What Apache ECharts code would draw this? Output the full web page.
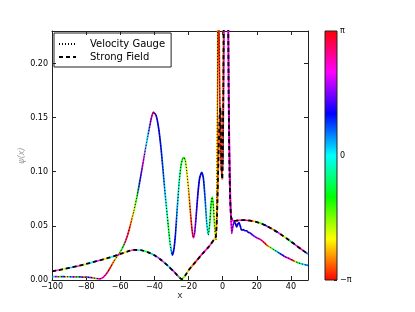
<!DOCTYPE html>
<html>
<head>
<meta charset="utf-8">
<script src="https://cdn.jsdelivr.net/npm/echarts@6/dist/echarts.min.js"></script>
<style>html,body{margin:0;padding:0;background:#fff;}#c{width:415px;height:312px;}</style>
</head>
<body>
<div id="c"></div>
<script>
// ---- data (phase in units of pi) ----
const vgX = [-100,-98,-96,-94,-92,-90,-88,-86,-84,-82,-80,-78,-76,-74,-72,-70,-68,-66,-64,-62,-60,-58,-56,-54,-52,-50,-48,-46,-44,-42,-40.6,-39,-37.5,-36,-34.5,-33,-31.5,-30.3,-29.5,-28.5,-27.5,-26.5,-25.5,-24.5,-23.5,-22.7,-21.8,-21,-20,-19,-18,-17.2,-16.4,-15.5,-14.5,-13.5,-12.3,-11.3,-10.3,-9.3,-8.4,-7.6,-6.8,-6.1,-5.4,-4.6,-3.9,-3.4,-3.0,-2.6,-2.2,-1.6,-0.8,0,0.5,0.9,2,3,3.6,4.2,4.8,5.3,6.0,6.8,7.5,8.2,9.0,9.6,10.3,11.1,12.1,13,14.1,15,16,18,20,22,24,26,28,30,32,34,36,38,40,41,42.4,44,46,48,50];
const vgY = [0.0030,0.0031,0.0030,0.0031,0.0030,0.0030,0.0029,0.0029,0.0028,0.0027,0.0026,0.0024,0.0020,0.0014,0.0010,0.0025,0.0060,0.0110,0.0165,0.0215,0.0260,0.0320,0.0400,0.0510,0.0640,0.0790,0.0960,0.1140,0.1320,0.1480,0.1550,0.1520,0.1400,0.1200,0.0940,0.0680,0.0440,0.0280,0.0230,0.0290,0.0450,0.0680,0.0900,0.1050,0.1120,0.1130,0.1100,0.1000,0.0830,0.0640,0.0470,0.0390,0.0440,0.0600,0.0800,0.0940,0.0995,0.0940,0.0760,0.0530,0.0415,0.0520,0.0700,0.0765,0.0680,0.0470,0.0370,0.0900,0.2000,0.3000,0.3000,0.1600,0.1000,0.1000,0.1800,0.3000,0.4200,0.3000,0.1700,0.1000,0.0600,0.0430,0.0500,0.0540,0.0520,0.0490,0.0520,0.0530,0.0500,0.0460,0.0465,0.0455,0.0455,0.0440,0.0435,0.0410,0.0390,0.0375,0.0350,0.0320,0.0300,0.0280,0.0260,0.0240,0.0220,0.0205,0.0190,0.0182,0.0172,0.0160,0.0150,0.0142,0.0135];
const vgPhase = [-0.8,0.0,0.6,-0.4,0.3,-0.7,0.1,0.7,-0.3,0.4,-0.9,0.2,0.8,-0.5,0.6,0.8,0.67,1.0,-0.9,-0.75,-0.5,-0.3,0.85,-0.95,-0.7,-0.4,0.3,0.7,0.0,0.5,0.85,0.4,0.35,0.3,0.2,0.0,-0.35,0.0,0.3,0.35,0.3,0.1,-0.1,-0.3,-0.33,-0.35,-0.5,-0.65,-0.75,-0.9,0.9,0.75,0.55,0.4,0.35,0.33,0.3,0.3,0.15,0.0,-0.15,-0.3,-0.33,-0.35,-0.5,-0.62,-0.67,-0.9,-0.93,-0.95,-0.93,-0.9,-0.9,0.3,0.6,0.7,0.7,0.7,0.7,0.7,0.65,0.6,0.4,0.35,0.35,0.35,0.35,0.35,0.35,0.35,0.35,0.35,0.35,0.4,0.45,0.55,0.7,0.8,1.0,-0.75,-0.4,-0.05,0.2,0.4,0.6,0.75,1.0,-0.7,-0.35,-0.15,0.0,0.2,0.33];

const sfX = [-100,-96,-92,-88,-84,-80,-76,-72,-68,-64,-60,-56,-52,-48,-44,-40,-36,-32,-28,-24,-22,-20,-16,-12,-8,-5,-4,-3.3,-2.5,-1.8,-1.3,-1.0,-0.6,-0.2,0.3,0.9,2,3,3.5,4,4.5,5,6,8,10,12,14,16,18,20,22,24,26,28,30,32,34,36,38,40,42,44,46,48,50];
const sfY = [0.0080,0.0092,0.0105,0.0118,0.0132,0.0148,0.0165,0.0182,0.0200,0.0218,0.0240,0.0262,0.0278,0.0275,0.0258,0.0228,0.0185,0.0130,0.0068,0.0008,0.0040,0.0090,0.0165,0.0240,0.0310,0.0375,0.0400,0.0600,0.1100,0.1500,0.1590,0.1350,0.1000,0.0930,0.1600,0.3000,0.4000,0.3000,0.1700,0.1000,0.0700,0.0580,0.0545,0.0548,0.0552,0.0553,0.0552,0.0548,0.0543,0.0535,0.0525,0.0512,0.0497,0.0480,0.0462,0.0443,0.0422,0.0400,0.0378,0.0355,0.0332,0.0308,0.0285,0.0262,0.0240];
const sfPhase = [0.0,0.7,-0.65,0.05,0.75,-0.6,0.0,0.65,-0.7,0.0,0.7,-0.65,0.75,0.0,-0.35,0.1,0.7,0.0,0.65,-0.35,-0.55,-0.75,-0.95,0.7,0.75,-0.7,-0.8,-0.88,-0.9,-0.92,-0.92,-0.92,-0.9,-0.88,0.6,0.7,0.7,0.7,0.7,0.7,0.7,0.7,0.75,0.8,0.75,0.7,0.95,-0.9,-0.75,-0.55,-0.35,0.3,0.75,-0.8,0.2,0.7,-0.7,-0.5,-0.35,0.2,0.7,0.9,0.6,0.2,0.0];

const xTicksMin = -100, xMax = 50, xStep = 20;
const yMin = 0, yMax = 0.23, yStep = 0.05;
const legendNames = ['Velocity Gauge', 'Strong Field'];

// ---- helpers ----
function phaseColor(p) {
  let h = ((p + 1) / 2) * 6;
  h = ((h % 6) + 6) % 6;
  const i = Math.floor(h), f = h - i, q = 1 - f;
  let r, g, b;
  switch (i) {
    case 0: r = 1; g = f; b = 0; break;
    case 1: r = q; g = 1; b = 0; break;
    case 2: r = 0; g = 1; b = f; break;
    case 3: r = 0; g = q; b = 1; break;
    case 4: r = f; g = 0; b = 1; break;
    default: r = 1; g = 0; b = q;
  }
  return 'rgb(' + Math.round(r * 255) + ',' + Math.round(g * 255) + ',' + Math.round(b * 255) + ')';
}
function phaseGradient(xs, ph) {
  const x0 = xs[0], x1 = xs[xs.length - 1];
  const stops = xs.map((x, i) => ({ offset: (x - x0) / (x1 - x0), color: phaseColor(ph[i]) }));
  return new echarts.graphic.LinearGradient(0, 0, 1, 0, stops);
}
const zip = (a, b) => a.map((v, i) => [v, b[i]]);
const FONT = 'DejaVu Sans';
const minus = s => String(s).replace('-', '\u2212');

const cbStops = [];
for (let k = 0; k <= 12; k++) cbStops.push({ offset: k / 12, color: phaseColor(1 - 2 * k / 12) });

const chart = echarts.init(document.getElementById('c'), null, { renderer: 'canvas' });
const axisLineStyle = { color: '#222', width: 1 };
const tickStyle = { show: true, inside: true, length: 4, lineStyle: { color: '#222' } };
chart.setOption({
  backgroundColor: '#fff',
  animation: false,
  textStyle: { fontFamily: FONT },
  grid: [
    { left: 52, top: 31, width: 256, height: 249 },
    { left: 325, top: 31, width: 12, height: 249 }
  ],
  legend: {
    data: legendNames,
    orient: 'vertical',
    left: 54, top: 33,
    padding: [6, 6, 5, 4],
    itemGap: 3,
    itemWidth: 17, itemHeight: 10,
    itemStyle: { opacity: 0 },
    borderColor: '#222', borderWidth: 1,
    textStyle: { fontFamily: FONT, fontSize: 10, color: '#000', padding: [0, 0, 0, 9] }
  },
  xAxis: [
    { gridIndex: 0, type: 'value', min: xTicksMin, max: xMax, interval: xStep, position: 'bottom',
      axisLine: { onZero: false, lineStyle: axisLineStyle }, axisTick: tickStyle,
      splitLine: { show: false },
      axisLabel: { fontSize: 8, color: '#000', margin: 3, fontFamily: FONT, showMaxLabel: false, formatter: v => minus(v) },
      name: 'x', nameLocation: 'middle', nameGap: 11, nameMoveOverlap: false,
      nameTextStyle: { fontSize: 9, color: '#333', fontFamily: FONT } },
    { gridIndex: 0, type: 'value', min: xTicksMin, max: xMax, interval: xStep, position: 'top',
      axisLine: { onZero: false, lineStyle: axisLineStyle }, axisTick: tickStyle,
      splitLine: { show: false }, axisLabel: { show: false } },
    { gridIndex: 1, type: 'value', min: 0, max: 1, show: false }
  ],
  yAxis: [
    { gridIndex: 0, type: 'value', min: yMin, max: yMax, interval: yStep, position: 'left',
      axisLine: { show: true, onZero: false, lineStyle: axisLineStyle }, axisTick: tickStyle,
      splitLine: { show: false },
      axisLabel: { fontSize: 8, color: '#000', margin: 4, fontFamily: FONT, showMaxLabel: false, formatter: v => v.toFixed(2) },
      name: '\u03c8(x)', nameLocation: 'middle', nameGap: 26, nameRotate: 90, nameMoveOverlap: false,
      nameTextStyle: { fontSize: 8, color: '#999', fontStyle: 'italic', fontFamily: FONT } },
    { gridIndex: 0, type: 'value', min: yMin, max: yMax, interval: yStep, position: 'right',
      axisLine: { show: true, onZero: false, lineStyle: axisLineStyle }, axisTick: tickStyle,
      splitLine: { show: false }, axisLabel: { show: false } },
    { gridIndex: 1, type: 'value', min: -Math.PI, max: Math.PI, interval: Math.PI, position: 'right',
      axisLine: { show: false, onZero: false }, axisTick: { show: true, inside: true, length: 3, lineStyle: { color: '#222' } },
      splitLine: { show: false },
      axisLabel: { fontSize: 8, color: '#000', margin: 3, fontFamily: FONT,
        formatter: v => (v > 1 ? '\u03c0' : (v < -1 ? '\u2212\u03c0' : '0')) } }
  ],
  series: [
    { type: 'line', name: 'vgColor', xAxisIndex: 0, yAxisIndex: 0, data: zip(vgX, vgY),
      showSymbol: false, symbol: 'none', smooth: 0.2, z: 2,
      lineStyle: { width: 1.7, color: phaseGradient(vgX, vgPhase) } },
    { type: 'line', name: 'sfColor', xAxisIndex: 0, yAxisIndex: 0, data: zip(sfX, sfY),
      showSymbol: false, symbol: 'none', smooth: 0.2, z: 2,
      lineStyle: { width: 1.7, color: phaseGradient(sfX, sfPhase) } },
    { type: 'line', name: legendNames[0], xAxisIndex: 0, yAxisIndex: 0, data: zip(vgX, vgY),
      showSymbol: false, symbol: 'none', smooth: 0.2, z: 3, color: '#000',
      lineStyle: { width: 1, color: '#000', type: [1, 2] } },
    { type: 'line', name: legendNames[1], xAxisIndex: 0, yAxisIndex: 0, data: zip(sfX, sfY),
      showSymbol: false, symbol: 'none', smooth: 0.2, z: 3, color: '#000',
      lineStyle: { width: 1.8, color: '#000', type: [4, 3] } },
    { type: 'custom', xAxisIndex: 2, yAxisIndex: 2, data: [[0, 0]], silent: true,
      renderItem: (params, api) => {
        const p0 = api.coord([0, Math.PI]);
        const p1 = api.coord([1, -Math.PI]);
        return { type: 'rect', shape: { x: p0[0], y: p0[1], width: p1[0] - p0[0], height: p1[1] - p0[1] },
          style: { fill: new echarts.graphic.LinearGradient(0, 0, 0, 1, cbStops), stroke: '#222', lineWidth: 1 } };
      } }
  ]
});
</script>
</body>
</html>
